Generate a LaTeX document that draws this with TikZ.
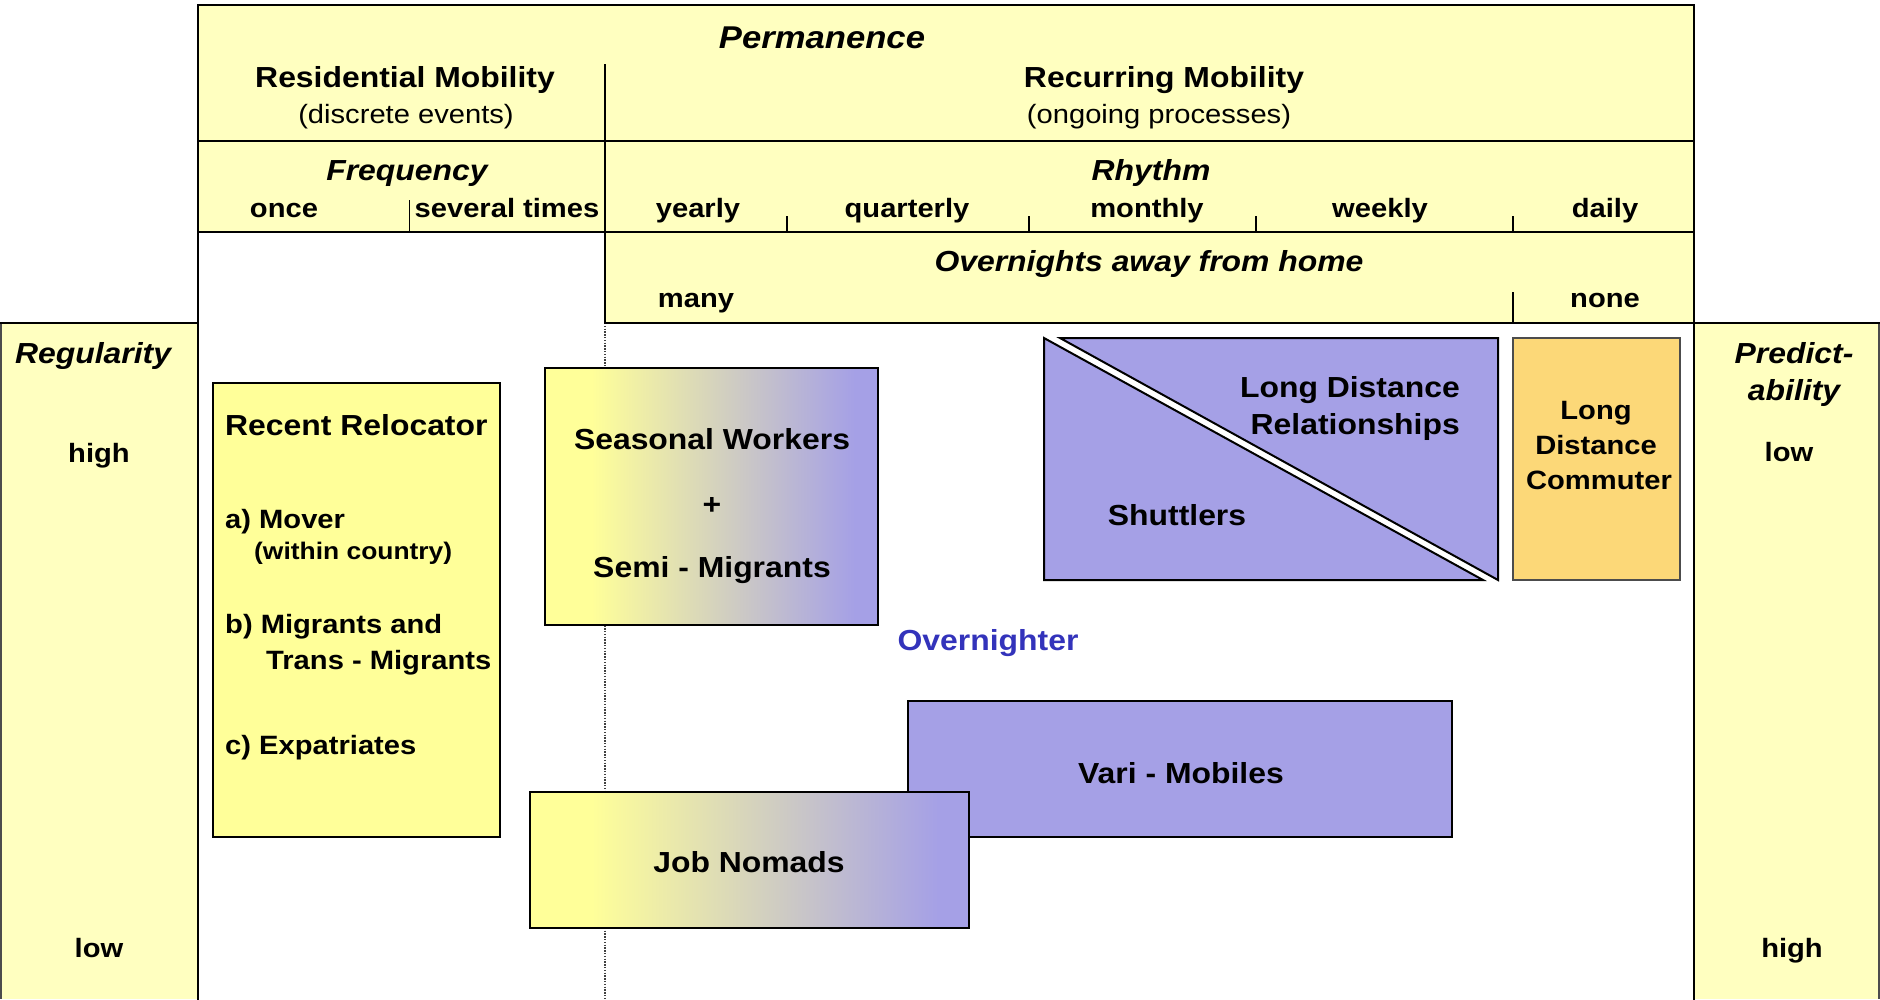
\documentclass[tikz,border=0pt]{standalone}
\usepackage{fontspec}
\setmainfont{Liberation Sans}[FakeStretch=1.1]
\definecolor{hdr}{RGB}{255,255,192}
\definecolor{relo}{RGB}{255,255,153}
\definecolor{purp}{RGB}{165,160,230}
\definecolor{comm}{RGB}{252,216,120}
\definecolor{onblue}{RGB}{51,51,187}
% the filled path spans 25bp to 75bp of the shading
\pgfdeclarehorizontalshading{yelpurp}{100bp}{color(0bp)=(relo); color(32bp)=(relo); color(71.5bp)=(purp); color(100bp)=(purp)}
\begin{document}
\begin{tikzpicture}[x=1pt,y=-1pt,
  frame/.style={line width=2pt, line cap=rect},
  tick/.style={line width=1.2pt},
  boxline/.style={draw=black, line width=2pt},
  lbl/.style={anchor=base, inner sep=0pt, font=\bfseries\fontsize{29}{34}\selectfont},
  head/.style={lbl, font=\bfseries\itshape\fontsize{29}{34}\selectfont},
  sub/.style={lbl, font=\bfseries\fontsize{26.5}{31}\selectfont},
  plain/.style={lbl, font=\fontsize{26.5}{31}\selectfont},
  tiny/.style={lbl, font=\bfseries\fontsize{24}{28}\selectfont}]
\useasboundingbox (0,0) rectangle (1880,999);
\fill[white] (0,0) rectangle (1880,999);

% header bands
\fill[hdr] (198,5) -- (1694,5) -- (1694,323) -- (605,323) -- (605,232) -- (198,232) -- cycle;
% side scales
\fill[hdr] (0,323) rectangle (198,999);
\fill[hdr] (1694,323) rectangle (1880,999);
\draw[line width=1.2pt, black!70] (1,323) -- (1,999);
\draw[line width=1.2pt, black!70] (1879,323) -- (1879,999);

% dotted separator of residential and recurring mobility
\draw[line width=1.3pt, black!75, dash pattern=on 1.4pt off 1.4pt] (605,323) -- (605,999);

% frame and rows
\draw[frame] (198,999) -- (198,5) -- (1694,5) -- (1694,999);
\draw[frame] (198,141) -- (1694,141);
\draw[frame] (198,232) -- (1694,232);
\draw[frame] (605,323) -- (1880,323);
\draw[frame] (0,323) -- (198,323);
\draw[frame] (605,65) -- (605,323);
% scale ticks
\draw[tick] (409.5,200) -- (409.5,232);
\draw[tick] (787,216) -- (787,232);
\draw[tick] (1029,216) -- (1029,232);
\draw[tick] (1256,216) -- (1256,232);
\draw[tick] (1513,216) -- (1513,232);
\draw[tick] (1513,292) -- (1513,323);

% type boxes
\draw[boxline, fill=relo] (213,383) rectangle (500,837);
\draw[boxline, shading=yelpurp] (545,368) rectangle (878,625);
\draw[boxline, fill=purp] (908,701) rectangle (1452,837);
\draw[boxline, shading=yelpurp] (530,792) rectangle (969,928);
\draw[boxline, fill=purp] (1044,338) -- (1044,580) -- (1483,580) -- cycle;
\draw[boxline, fill=purp] (1060,338) -- (1498,338) -- (1498,580) -- cycle;
\draw[draw=black!70, line width=1.6pt, fill=comm] (1513,338) rectangle (1680,580);

% header texts
\node[lbl, font=\bfseries\itshape\fontsize{31.5}{36}\selectfont] (perm) at (822,48) {Permanence};
\node[lbl] (resmob) at (405,87) {Residential Mobility};
\node[plain] (resdesc) at (406,123) {(discrete events)};
\node[lbl] (recmob) at (1164,87) {Recurring Mobility};
\node[plain] (recdesc) at (1159,123) {(ongoing processes)};
\node[head] (freq) at (407,180) {Frequency};
\node[head] (rhythm) at (1151,180) {Rhythm};
\node[sub] (once) at (284,217) {once};
\node[sub] (several) at (507,217) {several times};
\node[sub] (yearly) at (698,217) {yearly};
\node[sub] (quarterly) at (907,217) {quarterly};
\node[sub] (monthly) at (1147,217) {monthly};
\node[sub] (weekly) at (1380,217) {weekly};
\node[sub] (daily) at (1605,217) {daily};
\node[head] (overn) at (1149,271) {Overnights away from home};
\node[sub] (many) at (696,307) {many};
\node[sub] (none) at (1605,307) {none};

% side scale texts
\node[head] (regul) at (93,363) {Regularity};
\node[sub] (reghigh) at (99,462) {high};
\node[sub] (reglow) at (99,957) {low};
\node[head] (pred1) at (1794,363) {Predict-};
\node[head] (pred2) at (1794,400) {ability};
\node[sub] (predlow) at (1789,461) {low};
\node[sub] (predhigh) at (1792,957) {high};

% box texts
\node[lbl, anchor=base west] (relo) at (225,435) {Recent Relocator};
\node[sub, anchor=base west] (relA) at (225,528) {a) Mover};
\node[tiny, anchor=base west] (relA2) at (254,559) {(within country)};
\node[sub, anchor=base west] (relB) at (225,633) {b) Migrants and};
\node[sub, anchor=base west] (relB2) at (266,669) {Trans - Migrants};
\node[sub, anchor=base west] (relC) at (225,754) {c) Expatriates};
\node[lbl] (seas1) at (712,449) {Seasonal Workers};
\node[lbl] (seas2) at (712,514) {+};
\node[lbl] (seas3) at (712,577) {Semi - Migrants};
\node[lbl, anchor=base east] (ldr1) at (1460,397) {Long Distance};
\node[lbl, anchor=base east] (ldr2) at (1460,434) {Relationships};
\node[lbl] (shut) at (1177,525) {Shuttlers};
\node[sub] (ldc1) at (1596,419) {Long};
\node[sub] (ldc2) at (1596,454) {Distance};
\node[sub] (ldc3) at (1599,489) {Commuter};
\node[lbl, text=onblue] (overnighter) at (988,650) {Overnighter};
\node[lbl] (vari) at (1181,783) {Vari - Mobiles};
\node[lbl] (nomads) at (749,872) {Job Nomads};
\end{tikzpicture}
\end{document}
